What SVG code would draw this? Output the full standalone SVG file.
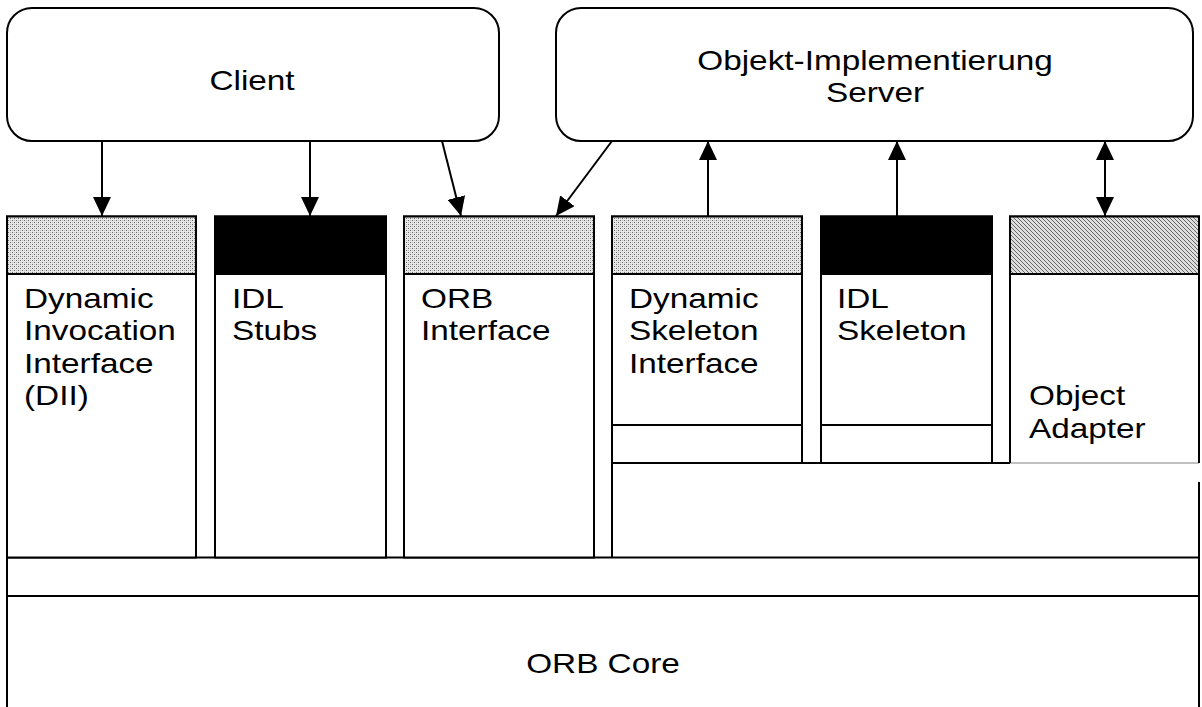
<svg xmlns="http://www.w3.org/2000/svg" width="1202" height="707" viewBox="0 0 1202 707">
  <style>
    .box { fill: #fff; stroke: #000; stroke-width: 2; }
    .ln { stroke: #000; stroke-width: 2; fill: none; }
    .grey { stroke: #c0c0c0; stroke-width: 2; fill: none; }
    .hdr { stroke: #000; stroke-width: 2; }
    .txt { font-family: "Liberation Sans", Arial, sans-serif; font-size: 28px; fill: #000; }
    .mid { text-anchor: middle; }
    .conn { stroke: #000; stroke-width: 2; fill: none; }
  </style>
  <defs>
    <pattern id="dots" width="4" height="4" patternUnits="userSpaceOnUse">
      <rect width="4" height="4" fill="#e8e8e8"/>
      <rect x="0" y="0" width="1" height="1" fill="#666"/>
      <rect x="2" y="2" width="1" height="1" fill="#666"/>
      <rect x="2" y="0" width="1" height="1" fill="#bbb"/>
      <rect x="0" y="2" width="1" height="1" fill="#bbb"/>
    </pattern>
    <pattern id="hatch" width="4" height="4" patternUnits="userSpaceOnUse">
      <rect width="4" height="4" fill="#dedede"/>
      <rect x="0" y="0" width="1" height="1" fill="#666"/>
      <rect x="1" y="1" width="1" height="1" fill="#666"/>
      <rect x="2" y="2" width="1" height="1" fill="#666"/>
      <rect x="3" y="3" width="1" height="1" fill="#666"/>
    </pattern>
    <marker id="arr" markerUnits="userSpaceOnUse" markerWidth="20" markerHeight="18" refX="19" refY="9" orient="auto-start-reverse">
      <path d="M0,0 L19,9 L0,18 z" fill="#000"/>
    </marker>
  </defs>

  <!-- ORB core and transport band -->
  <g id="orb-core">
    <path class="ln" d="M7,596 H1199 M7,557.5 V720 M1199,482 V720"/>
    <text class="txt mid" transform="matrix(1.19,0,0,1,603,0)" x="0" y="673">ORB Core</text>
  </g>
  <g id="band">
    <path class="ln" d="M7,557.5 H1199"/>
  </g>

  <!-- server-side base region under the skeletons and adapter -->
  <g id="skeleton-base">
    <path class="ln" d="M612,463 H1010 M612,216.5 V557.5"/>
    <path class="grey" d="M1010,463 H1199"/>
  </g>

  <!-- Client -->
  <g id="client">
    <rect class="box" x="7" y="8" width="492" height="133" rx="25" ry="25"/>
    <text class="txt mid" transform="matrix(1.19,0,0,1,252,0)" x="0" y="90">Client</text>
  </g>

  <!-- Object implementation / server -->
  <g id="server">
    <rect class="box" x="556" y="8" width="637" height="133" rx="25" ry="25"/>
    <text class="txt mid" transform="matrix(1.19,0,0,1,875,0)" x="0" y="70">Objekt-Implementierung</text>
    <text class="txt mid" transform="matrix(1.19,0,0,1,875,0)" x="0" y="102">Server</text>
  </g>

  <!-- Dynamic Invocation Interface -->
  <g id="dii">
    <rect class="box" x="7" y="216.5" width="189" height="341"/>
    <rect class="hdr" x="7" y="216.5" width="189" height="57.5" fill="url(#dots)"/>
    <g transform="matrix(1.19,0,0,1,24,0)">
      <text class="txt" x="0" y="308">Dynamic</text>
      <text class="txt" x="0" y="340.5">Invocation</text>
      <text class="txt" x="0" y="373">Interface</text>
      <text class="txt" x="0" y="405.5">(DII)</text>
    </g>
  </g>

  <!-- IDL Stubs -->
  <g id="idl-stubs">
    <rect class="box" x="215" y="216.5" width="171" height="341"/>
    <rect class="hdr" x="215" y="216.5" width="171" height="57.5" fill="#000"/>
    <g transform="matrix(1.19,0,0,1,232,0)">
      <text class="txt" x="0" y="308">IDL</text>
      <text class="txt" x="0" y="340.5">Stubs</text>
    </g>
  </g>

  <!-- ORB Interface -->
  <g id="orb-interface">
    <rect class="box" x="404" y="216.5" width="190" height="341"/>
    <rect class="hdr" x="404" y="216.5" width="190" height="57.5" fill="url(#dots)"/>
    <g transform="matrix(1.19,0,0,1,421,0)">
      <text class="txt" x="0" y="308">ORB</text>
      <text class="txt" x="0" y="340.5">Interface</text>
    </g>
  </g>

  <!-- Dynamic Skeleton Interface -->
  <g id="dsi">
    <rect class="box" x="612" y="216.5" width="190" height="246.5"/>
    <rect class="hdr" x="612" y="216.5" width="190" height="57.5" fill="url(#dots)"/>
    <path class="ln" d="M612,425 H802"/>
    <g transform="matrix(1.19,0,0,1,629,0)">
      <text class="txt" x="0" y="308">Dynamic</text>
      <text class="txt" x="0" y="340.5">Skeleton</text>
      <text class="txt" x="0" y="373">Interface</text>
    </g>
  </g>

  <!-- IDL Skeleton -->
  <g id="idl-skeleton">
    <rect class="box" x="821" y="216.5" width="171" height="246.5"/>
    <rect class="hdr" x="821" y="216.5" width="171" height="57.5" fill="#000"/>
    <path class="ln" d="M821,425 H992"/>
    <g transform="matrix(1.19,0,0,1,837,0)">
      <text class="txt" x="0" y="308">IDL</text>
      <text class="txt" x="0" y="340.5">Skeleton</text>
    </g>
  </g>

  <!-- Object Adapter -->
  <g id="object-adapter">
    <path class="ln" d="M1010,463 V216.5 H1199 V463"/>
    <rect class="hdr" x="1010" y="216.5" width="189" height="57.5" fill="url(#hatch)"/>
    <g transform="matrix(1.19,0,0,1,1029,0)">
      <text class="txt" x="0" y="405.5">Object</text>
      <text class="txt" x="0" y="438">Adapter</text>
    </g>
  </g>

  <!-- Connectors -->
  <g id="connectors">
    <line class="conn" x1="102" y1="141" x2="102" y2="216" marker-end="url(#arr)"/>
    <line class="conn" x1="310" y1="141" x2="310" y2="216" marker-end="url(#arr)"/>
    <line class="conn" x1="442" y1="141" x2="461" y2="216" marker-end="url(#arr)"/>
    <line class="conn" x1="612" y1="141" x2="556" y2="216" marker-end="url(#arr)"/>
    <line class="conn" x1="708" y1="216" x2="708" y2="141" marker-end="url(#arr)"/>
    <line class="conn" x1="897" y1="216" x2="897" y2="141" marker-end="url(#arr)"/>
    <line class="conn" x1="1105" y1="141" x2="1105" y2="216" marker-start="url(#arr)" marker-end="url(#arr)"/>
  </g>
</svg>
